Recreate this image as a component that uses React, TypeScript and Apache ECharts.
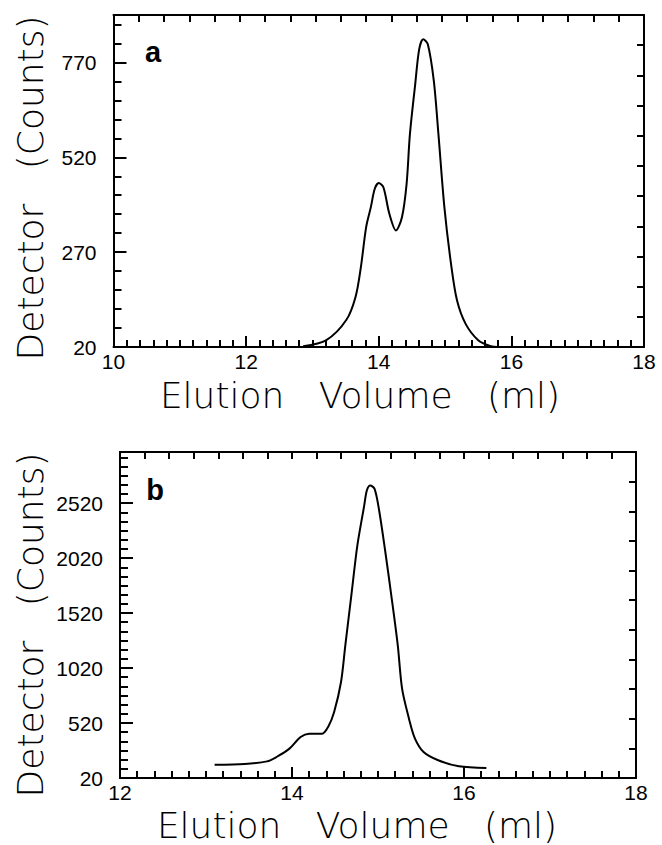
import React, { useEffect, useRef } from "react";
import * as echarts from "echarts";

// Panel a data
const volumeA = [12.86, 13.21, 13.51, 13.65, 13.73, 13.81, 13.88, 13.94, 14.0, 14.07, 14.16, 14.26, 14.35, 14.42, 14.47, 14.55, 14.61, 14.67, 14.74, 14.83, 14.9, 14.99, 15.09, 15.18, 15.31, 15.5, 15.69, 15.8];
const countsA = [22, 38, 91, 152, 230, 336, 388, 437, 452, 441, 371, 327, 362, 450, 581, 713, 805, 831, 818, 722, 581, 388, 239, 143, 81, 38, 22, 20];

// Panel b data
const volumeB = [13.1, 13.45, 13.71, 13.82, 13.97, 14.1, 14.2, 14.35, 14.42, 14.49, 14.57, 14.62, 14.69, 14.76, 14.84, 14.87, 14.91, 14.96, 15.01, 15.08, 15.16, 15.23, 15.28, 15.36, 15.43, 15.53, 15.7, 15.94, 16.26];
const countsB = [140, 148, 171, 211, 287, 393, 423, 423, 484, 620, 893, 1226, 1680, 2135, 2499, 2635, 2680, 2650, 2469, 2105, 1650, 1226, 832, 560, 378, 256, 181, 126, 111];

// Axis ranges / tick steps
const xRangeA = [10, 18];
const xRangeB = [12, 18];
const yRangeA = [20, 895];
const yRangeB = [20, 2985];
const yLabelStepA = 250;
const yLabelStepB = 500;
const yMinorPerLabelA = 5;
const yMinorPerLabelB = 6;

const yTitle = "Detector   (Counts)";
const xTitle = "Elution   Volume   (ml)";
const panelLabels = ["a", "b"];

const BLACK = "#000";
const tickFont = { fontFamily: "Liberation Sans, Arial, sans-serif", fontSize: 21, color: BLACK };
const titleFont = "DejaVu Sans, sans-serif";

function frameAxisBase() {
  return {
    axisLine: { show: true, onZero: false, lineStyle: { color: BLACK, width: 2 } },
    splitLine: { show: false },
  };
}

export default function App() {
  const ref = useRef<HTMLDivElement>(null);
  useEffect(() => {
    document.body.style.margin = "0";
    const chart = echarts.init(ref.current!, null, { renderer: "svg" });

    const grids = [
      { left: 113.5, top: 15, width: 530.5, height: 332 },
      { left: 120, top: 452, width: 516, height: 326 },
    ];

    const xAxes: any[] = [];
    const yAxes: any[] = [];
    const xr = [xRangeA, xRangeB];
    const yr = [yRangeA, yRangeB];
    const ystep = [yLabelStepA, yLabelStepB];
    const yminor = [yMinorPerLabelA, yMinorPerLabelB];

    for (let g = 0; g < 2; g++) {
      xAxes.push({
        ...frameAxisBase(),
        type: "value",
        gridIndex: g,
        position: "bottom",
        min: xr[g][0],
        max: xr[g][1],
        interval: 2,
        axisTick: { show: true, inside: true, length: 11, lineStyle: { color: BLACK, width: 2 } },
        minorTick: { show: true, splitNumber: 10, length: 7, lineStyle: { color: BLACK, width: 2 } },
        axisLabel: { ...tickFont, margin: 4, formatter: (v: number) => String(v) },
      });
      xAxes.push({
        ...frameAxisBase(),
        type: "value",
        gridIndex: g,
        position: "top",
        min: 0,
        max: 21,
        interval: 1,
        axisTick: { show: true, inside: true, length: 7, lineStyle: { color: BLACK, width: 2 } },
        axisLabel: { show: false },
      });
      yAxes.push({
        ...frameAxisBase(),
        type: "value",
        gridIndex: g,
        position: "left",
        min: yr[g][0],
        max: yr[g][1],
        interval: ystep[g],
        axisTick: { show: true, inside: true, length: 13, lineStyle: { color: BLACK, width: 2 } },
        axisLabel: { ...tickFont, margin: 17, showMaxLabel: false, formatter: (v: number) => String(v) },
      });
      yAxes.push({
        ...frameAxisBase(),
        type: "value",
        gridIndex: g,
        position: "left",
        min: yr[g][0],
        max: yr[g][1],
        interval: ystep[g] / yminor[g],
        axisTick: { show: true, inside: true, length: 8, lineStyle: { color: BLACK, width: 2 } },
        axisLabel: { show: false },
      });
      yAxes.push({
        ...frameAxisBase(),
        type: "value",
        gridIndex: g,
        position: "right",
        min: 0,
        max: 11,
        interval: 1,
        axisTick: { show: true, inside: true, length: 7, lineStyle: { color: BLACK, width: 2 } },
        axisLabel: { show: false },
      });
    }

    const dataA = volumeA.map((v, i) => [v, countsA[i]]);
    const dataB = volumeB.map((v, i) => [v, countsB[i]]);

    chart.setOption({
      animation: false,
      backgroundColor: "#fff",
      grid: grids,
      xAxis: xAxes,
      yAxis: yAxes,
      series: [
        { type: "line", xAxisIndex: 0, yAxisIndex: 0, data: dataA, smooth: 0.3, showSymbol: false, lineStyle: { color: BLACK, width: 2 } },
        { type: "line", xAxisIndex: 2, yAxisIndex: 3, data: dataB, smooth: 0.3, showSymbol: false, lineStyle: { color: BLACK, width: 2 } },
      ],
      graphic: [
        { type: "text", x: 30, y: 188, rotation: Math.PI / 2, style: { text: yTitle, font: `200 36px ${titleFont}`, fill: BLACK, align: "center", verticalAlign: "middle" } },
        { type: "text", x: 30, y: 625, rotation: Math.PI / 2, style: { text: yTitle, font: `200 36px ${titleFont}`, fill: BLACK, align: "center", verticalAlign: "middle" } },
        { type: "text", x: 360, y: 395, style: { text: xTitle, font: `200 36px ${titleFont}`, fill: BLACK, align: "center", verticalAlign: "middle" } },
        { type: "text", x: 357, y: 825, style: { text: xTitle, font: `200 36px ${titleFont}`, fill: BLACK, align: "center", verticalAlign: "middle" } },
        { type: "text", x: 153, y: 52, style: { text: panelLabels[0], font: "bold 29px Liberation Sans, Arial, sans-serif", fill: BLACK, align: "center", verticalAlign: "middle" } },
        { type: "text", x: 155, y: 490, style: { text: panelLabels[1], font: "bold 29px Liberation Sans, Arial, sans-serif", fill: BLACK, align: "center", verticalAlign: "middle" } },
      ],
    });
    return () => chart.dispose();
  }, []);
  return <div ref={ref} style={{ width: 662, height: 845 }} />;
}
